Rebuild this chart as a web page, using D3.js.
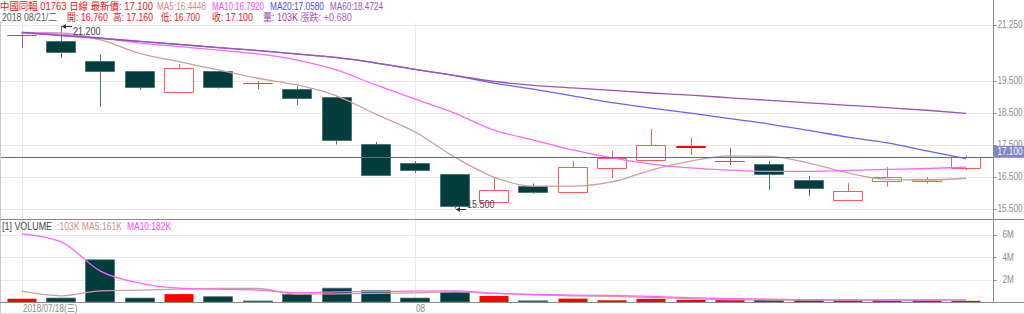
<!DOCTYPE html>
<html>
<head>
<meta charset="utf-8">
<script src="https://cdn.jsdelivr.net/npm/d3@7"></script>
<style>
  body { margin: 0; background: #fff; }
  svg text { font-family: "Liberation Sans", "Noto Sans CJK TC", sans-serif; font-size: 10px; }
</style>
</head>
<body>
<div class="chart"></div>
<script>
// 中國同輻 01763 daily candles, 2018/07/18 - 2018/08/21
var dates = ["2018-07-18","2018-07-19","2018-07-20","2018-07-23","2018-07-24","2018-07-25","2018-07-26",
  "2018-07-27","2018-07-30","2018-07-31","2018-08-01","2018-08-02","2018-08-03","2018-08-06","2018-08-07",
  "2018-08-08","2018-08-09","2018-08-10","2018-08-13","2018-08-14","2018-08-15","2018-08-16","2018-08-17",
  "2018-08-20","2018-08-21"];

var openP  = [20.92,20.75,20.10,19.80,19.13,19.80,19.41,19.25,19.00,17.53,16.93,16.58,15.70,16.20,16.02,
  16.79,17.01,17.44,17.00,16.88,16.38,15.76,16.38,16.36,16.76];
var highP  = [21.01,21.20,20.31,19.80,20.02,19.80,19.48,19.32,19.00,17.58,16.98,16.58,16.46,16.28,16.99,
  17.30,17.98,17.72,17.39,16.99,16.51,16.29,16.79,16.49,17.16];
var lowP   = [20.51,20.21,18.68,19.21,19.13,19.25,19.23,18.73,17.50,16.57,16.61,15.50,15.70,15.96,16.02,
  16.45,17.01,17.17,16.86,16.08,15.88,15.76,16.18,16.28,16.70];
var closeP = [20.92,20.40,19.80,19.30,19.88,19.30,19.41,18.98,17.66,16.57,16.72,15.58,16.09,16.00,16.79,
  17.09,17.49,17.46,17.00,16.58,16.14,16.05,16.50,16.42,17.10];

var ma5  = [21.006,20.99,20.77,20.35,20.09,19.83,19.57,19.36,19.02,18.45,17.89,17.11,16.48,16.20,16.20,
  16.33,16.70,16.98,17.14,17.13,16.92,16.61,16.41,16.39,16.4448];
var ma10 = [21.006,20.95,20.83,20.67,20.56,20.45,20.33,20.14,19.83,19.36,18.92,18.48,17.95,17.64,17.33,
  17.08,16.89,16.77,16.70,16.66,16.66,16.69,16.72,16.75,16.792];
var ma20 = [21.0,20.905,20.815,20.72,20.625,20.525,20.435,20.325,20.215,20.045,19.845,19.655,19.42,19.23,19.02,
  18.81,18.64,18.48,18.31,18.14,17.94,17.73,17.55,17.30,17.058];
var ma60 = [21.006,20.91,20.82,20.725,20.63,20.53,20.44,20.33,20.22,20.05,19.85,19.66,19.47,19.35,19.27,
  19.19,19.11,19.04,18.96,18.88,18.80,18.725,18.65,18.57,18.4724];

// volume in shares, bar colour: 1 = red, 0 = dark
var volume = [290000,350000,3750000,350000,700000,470000,90000,670000,1230000,1000000,350000,880000,530000,
  100000,300000,150000,280000,190000,220000,175000,230000,160000,150000,162000,103000];
var volUp  = [1,0,0,0,1,0,0,0,0,0,0,0,1,0,1,1,1,1,1,0,0,1,1,1,1];
var volMa5  = [960000,550000,990000,1050000,1140000,1200000,1200000,700000,730000,760000,820000,900000,760000,
  640000,550000,500000,400000,300000,200000,180000,170000,160000,160000,160000,161000];
var volMa10 = [6050000,5350000,2750000,1670000,1230000,1140000,1050000,820000,900000,930000,960000,990000,790000,
  670000,610000,580000,500000,380000,290000,260000,200000,190000,180000,180000,182000];

var priceTicks = [15.5, 16.5, 17.5, 18.5, 19.5, 21.25];
var volTicks = [2000000, 4000000, 6000000];
var dateTicks = ["2018-07-18", "2018-08-01"];
var dateTickLabels = ["2018/07/18(三)", "08"];

var svgWidth = 1024, svgHeight = 314;
var axisX = 993.5;
var narrow = 0.82;   // the reference uses a condensed face
var col = { up: "#ff5a5a", upBar: "#ff0000", down: "#023d3d", downLine: "#4d7676", flat: "#9b4fb0",
  ma5: "#cc9f9c", ma10: "#ff66ff", ma20: "#6464ff", ma60: "#9a55b4", grid: "#e8e8e8", axis: "#8a8a8a", text: "#8c8c8c" };

var svg = d3.select(".chart").append("svg").attr("width", svgWidth).attr("height", svgHeight);

var x = d3.scaleBand().domain(dates).range([2, 985.75]).paddingInner(0.24).paddingOuter(0.12);
var bw = x.bandwidth();
function cx(d) { return x(d) + bw / 2; }
var y = d3.scaleLinear().domain([15.5, 21.25]).range([208.5, 24.5]);
var yv = d3.scaleLinear().domain([0, 6000000]).range([302, 234.5]);

var n = dates.length;
var rows = dates.map(function(d, i) {
  return { date: d, o: openP[i], h: highP[i], l: lowP[i], c: closeP[i], v: volume[i], up: volUp[i] };
});

// narrow text helper
function place(sel, fx, fy) {
  return sel.attr("transform", function(d, i) {
    return "translate(" + fx(d, i) + "," + fy(d, i) + ") scale(" + narrow + ",1)";
  });
}

svg.append("defs").append("clipPath").attr("id", "clipP")
  .append("rect").attr("x", 0).attr("y", 22).attr("width", axisX).attr("height", 197);
svg.select("defs").append("clipPath").attr("id", "clipV")
  .append("rect").attr("x", 0).attr("y", 220).attr("width", axisX).attr("height", 82);

// grid lines
var grid = svg.append("g");
grid.selectAll(".hp").data(priceTicks).enter().append("line")
  .attr("x1", 0).attr("x2", axisX)
  .attr("y1", function(d) { return Math.round(y(d)) + 0.5; })
  .attr("y2", function(d) { return Math.round(y(d)) + 0.5; })
  .attr("stroke", col.grid);
grid.selectAll(".hv").data(volTicks).enter().append("line")
  .attr("x1", 0).attr("x2", axisX)
  .attr("y1", function(d) { return Math.round(yv(d)) + 0.5; })
  .attr("y2", function(d) { return Math.round(yv(d)) + 0.5; })
  .attr("stroke", col.grid);
grid.selectAll(".vx").data(dateTicks).enter().append("line")
  .attr("x1", function(d) { return Math.round(cx(d)) + 0.5; })
  .attr("x2", function(d) { return Math.round(cx(d)) + 0.5; })
  .attr("y1", 23).attr("y2", 302)
  .attr("stroke", col.grid);

// candles
var price = svg.append("g").attr("clip-path", "url(#clipP)");
function candleColor(r) {
  if (r.c > r.o) return col.up;
  if (r.c < r.o) return col.down;
  return col.flat;
}
price.selectAll(".wick").data(rows).enter().append("line")
  .attr("x1", function(r) { return Math.round(cx(r.date)) + 0.5; })
  .attr("x2", function(r) { return Math.round(cx(r.date)) + 0.5; })
  .attr("y1", function(r) { return y(r.h); })
  .attr("y2", function(r) { return y(r.l); })
  .attr("stroke", function(r) { return r.c < r.o ? col.downLine : candleColor(r); });

price.selectAll(".body").data(rows).enter().append("path")
  .attr("d", function(r) {
    var x0 = Math.round(x(r.date)) + 0.5, w = Math.round(bw) - 1;
    var y0 = Math.round(y(Math.max(r.o, r.c))) + 0.5;
    var h = Math.round(Math.abs(y(r.o) - y(r.c)));
    return "M" + x0 + "," + y0 + "h" + w + "v" + h + "h" + (-w) + "Z";
  })
  .attr("fill", function(r) { return r.c < r.o ? col.down : "#fff"; })
  .attr("stroke", function(r) {
    if (r.c < r.o) return col.downLine;
    if (r.c > r.o && Math.abs(y(r.o) - y(r.c)) < 1.5) return "#ff0000";
    return candleColor(r);
  });

// moving averages on price
var priceLine = d3.line().x(function(d, i) { return cx(dates[i]); }).y(function(d) { return y(d); })
  .curve(d3.curveMonotoneX);
[[ma5, col.ma5], [ma10, col.ma10], [ma20, col.ma20], [ma60, col.ma60]].forEach(function(m) {
  price.append("path").datum(m[0]).attr("d", priceLine)
    .attr("fill", "none").attr("stroke", m[1]).attr("stroke-width", 1.3);
});

// high / low markers
var hi = d3.maxIndex(highP), lo = d3.minIndex(lowP);
function marker(i, v, textDy) {
  var mx = Math.round(cx(dates[i])) + 1, my = Math.round(y(v)) + 0.5;
  price.append("line").attr("x1", mx).attr("x2", mx + 10).attr("y1", my).attr("y2", my)
    .attr("stroke", "#333");
  price.append("path").attr("d", "M" + mx + "," + my + "l4,-2.5v5z").attr("fill", "#333");
  place(price.append("text").datum(v), function() { return mx + 11; }, function() { return my + textDy; })
    .attr("fill", "#444").style("font-size", "11px").text(d3.format(".3f")(v));
}
marker(hi, highP[hi], 8);
marker(lo, lowP[lo], -2);

// last price line
var last = n - 1;
svg.append("rect").attr("x", 0).attr("width", axisX)
  .attr("y", Math.round(y(closeP[last]))).attr("height", 1)
  .attr("fill", "#5a5aff");

// volume bars and averages
var vol = svg.append("g").attr("clip-path", "url(#clipV)");
vol.selectAll(".vb").data(rows).enter().append("rect")
  .attr("x", function(r) { return Math.round(x(r.date)) + 0.5; })
  .attr("width", Math.round(bw) - 1)
  .attr("y", function(r) { return yv(r.v); })
  .attr("height", function(r) { return Math.max(1, yv(0) - yv(r.v)); })
  .attr("fill", function(r) { return r.up ? col.upBar : col.down; })
  .attr("stroke", function(r) { return r.up ? "none" : col.downLine; })
  .attr("stroke-width", 0.8);
var volLine = d3.line().x(function(d, i) { return cx(dates[i]); }).y(function(d) { return yv(d); })
  .curve(d3.curveMonotoneX);
[[volMa5, col.ma5], [volMa10, col.ma10]].forEach(function(m) {
  vol.append("path").datum(m[0]).attr("d", volLine)
    .attr("fill", "none").attr("stroke", m[1]).attr("stroke-width", 1.3);
});

// frame
var frame = svg.append("g").attr("fill", "none");
frame.append("line").attr("x1", 0.5).attr("x2", 0.5).attr("y1", 22).attr("y2", 314).attr("stroke", "#c8c8c8");
frame.append("line").attr("x1", 0).attr("x2", svgWidth).attr("y1", 219.5).attr("y2", 219.5).attr("stroke", col.axis);
frame.append("line").attr("x1", 0).attr("x2", svgWidth).attr("y1", 302.5).attr("y2", 302.5).attr("stroke", col.axis);
frame.append("line").attr("x1", 0).attr("x2", svgWidth).attr("y1", 313.5).attr("y2", 313.5).attr("stroke", "#e0e0e0");
frame.append("line").attr("x1", axisX).attr("x2", axisX).attr("y1", 0).attr("y2", 302.5).attr("stroke", col.axis);

// right axes
var fmtP = d3.format(".3f");
var ra = svg.append("g");
ra.selectAll(".pt").data(priceTicks).enter().append("line")
  .attr("x1", axisX).attr("x2", axisX + 3)
  .attr("y1", function(d) { return Math.round(y(d)) + 0.5; })
  .attr("y2", function(d) { return Math.round(y(d)) + 0.5; })
  .attr("stroke", col.axis);
place(ra.selectAll(".pl").data(priceTicks).enter().append("text"),
    function() { return axisX + 4; }, function(d) { return y(d); })
  .attr("dy", "0.35em").attr("fill", col.text).text(function(d) { return fmtP(d); });
ra.selectAll(".vt").data(volTicks).enter().append("line")
  .attr("x1", axisX).attr("x2", axisX + 3)
  .attr("y1", function(d) { return Math.round(yv(d)) + 0.5; })
  .attr("y2", function(d) { return Math.round(yv(d)) + 0.5; })
  .attr("stroke", col.axis);
place(ra.selectAll(".vl").data(volTicks).enter().append("text"),
    function() { return axisX + 9; }, function(d) { return yv(d); })
  .attr("dy", "0.35em").attr("fill", col.text).text(function(d) { return d / 1000000 + "M"; });

// last price tag
var ly = y(closeP[last]);
ra.append("rect").attr("x", axisX).attr("y", ly - 11.5).attr("width", svgWidth - axisX).attr("height", 12)
  .attr("fill", "#8585c6");
place(ra.append("text").datum(ly), function() { return axisX + 4; }, function() { return ly - 5.5; })
  .attr("dy", "0.35em").attr("fill", "#fff").text(fmtP(closeP[last]));

// date axis
place(svg.selectAll(".dl").data(dateTicks).enter().append("text"),
    function(d) { return Math.round(cx(d)) + 1; }, function() { return 312; })
  .attr("fill", col.text).text(function(d, i) { return dateTickLabels[i]; });

// header, each segment stretched to the width it takes in the reference
var chg = closeP[last] - closeP[last - 1];
var head1 = [
  { x: 0, w: 153, c: "#e8141e", t: "中國同輻 01763 日線 最新價: " + fmtP(closeP[last]) },
  { x: 157, w: 49, c: "#d98a8a", t: "MA5:" + d3.format(".4f")(ma5[last]) },
  { x: 212, w: 52, c: "#ff44ff", t: "MA10:" + d3.format(".4f")(ma10[last]) },
  { x: 270, w: 54, c: "#4a4aff", t: "MA20:" + d3.format(".4f")(ma20[last]) },
  { x: 330, w: 53, c: "#9a55b4", t: "MA60:" + d3.format(".4f")(ma60[last]) }
];
var head2 = [
  { x: 2, w: 55, c: "#555", t: "2018 08/21/二" },
  { x: 67, w: 41, c: "#e8141e", t: "開: " + fmtP(openP[last]) },
  { x: 113, w: 40, c: "#e8141e", t: "高: " + fmtP(highP[last]) },
  { x: 161, w: 39, c: "#e8141e", t: "低: " + fmtP(lowP[last]) },
  { x: 212, w: 41, c: "#e8141e", t: "收: " + fmtP(closeP[last]) },
  { x: 263, w: 35, c: "#a03cb0", t: "量: " + volume[last] / 1000 + "K" },
  { x: 300, w: 52, c: "#b060c0", t: "漲跌: " + d3.format("+.3f")(chg) }
];
var head3 = [
  { x: 2, w: 50, c: "#444", t: "[1] VOLUME" },
  { x: 57, w: 65, c: "#d98a8a", t: ":" + volume[last] / 1000 + "K MA5:" + volMa5[last] / 1000 + "K" },
  { x: 127, w: 44, c: "#ff44ff", t: "MA10:" + volMa10[last] / 1000 + "K" }
];
[[head1, 10], [head2, 21], [head3, 230]].forEach(function(h) {
  svg.selectAll(null).data(h[0]).enter().append("text")
    .attr("x", function(d) { return d.x; }).attr("y", h[1])
    .attr("textLength", function(d) { return d.w; }).attr("lengthAdjust", "spacingAndGlyphs")
    .attr("fill", function(d) { return d.c; }).text(function(d) { return d.t; });
});
</script>
</body>
</html>
